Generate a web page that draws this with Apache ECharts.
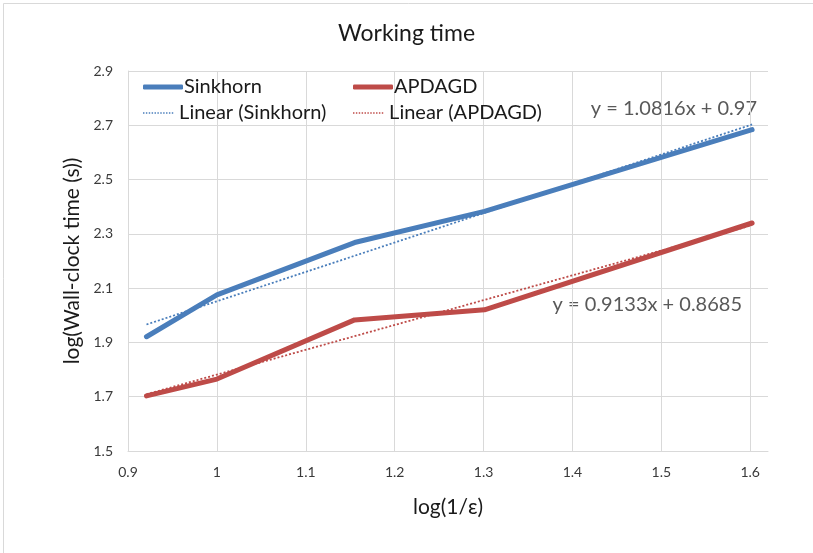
<!DOCTYPE html>
<html><head><meta charset="utf-8">
<script src="https://cdn.jsdelivr.net/npm/echarts@6/dist/echarts.min.js"></script>
<style>html,body{margin:0;padding:0;background:#fff}#c{width:813px;height:553px}</style>
</head><body><div id="c"></div>
<script>
var xValues = [0.9208, 1.0, 1.1549, 1.3010, 1.6021];
var sinkhorn = [1.921, 2.075, 2.268, 2.383, 2.684];
var apdagd = [1.703, 1.765, 1.983, 2.020, 2.340];
var trendX = [0.9208, 1.6021];
var sinkhornTrend = [1.966, 2.703];
var apdagdTrend = [1.709, 2.332];
var sinkhornEq = 'y = 1.0816x + 0.97';
var apdagdEq = 'y = 0.9133x + 0.8685';

function pairs(xs, ys){ return xs.map(function(x,i){return [x, ys[i]];}); }
var FONT = 'Lato';
var chart = echarts.init(document.getElementById('c'));
var blue = '#4a7ebb', red = '#be4b48';
var dots = 'path://';
for (var i = 0; i < 11; i++) { dots += 'M' + (i*3.6) + ',0h1.8v2h-1.8z'; }
function leg(name, left, top, solid, color){
  return {left:left, top:top, orient:'vertical', itemWidth:40, itemHeight: solid ? 5 : 1.6,
    icon: solid ? 'roundRect' : dots, itemStyle:{color:color},
    data:[{name:name, icon: solid ? 'roundRect' : dots, itemStyle:{color:color}}],
    textStyle:{fontFamily:FONT, fontSize:20, color:'#1a1a1a', padding:[0,0,0,-4]}};
}
chart.setOption({
  animation:false,
  backgroundColor:'#fff',
  textStyle:{fontFamily:FONT},
  title:{text:'Working time', left:'center', top:17, textStyle:{fontFamily:FONT, fontSize:23, fontWeight:'normal', color:'#1a1a1a'}},
  legend:[
    leg('Sinkhorn', 138, 72, true, blue),
    leg('Linear (Sinkhorn)', 138, 98, false, blue),
    leg('APDAGD', 348, 72, true, red),
    leg('Linear (APDAGD)', 348, 98, false, red)
  ],
  grid:{left:128, right:45, top:71, bottom:102},
  xAxis:{type:'value', min:0.9, max:1.62, interval:0.1,
    name:'log(1/ε)', nameLocation:'middle', nameGap:46,
    nameTextStyle:{fontFamily:FONT, fontSize:21, color:'#1a1a1a'},
    axisLine:{lineStyle:{color:'#d9d9d9'}}, axisTick:{show:false},
    axisLabel:{showMaxLabel:false, margin:14, fontSize:14, color:'#3a3a3a', fontFamily:FONT,
      formatter:function(v){return (Math.round(v*10)/10).toString();}},
    splitLine:{show:true, showMaxLine:false, lineStyle:{color:'#d9d9d9'}}},
  yAxis:{type:'value', min:1.5, max:2.9, interval:0.2,
    name:'log(Wall-clock time (s))', nameLocation:'middle', nameGap:38,
    nameTextStyle:{fontFamily:FONT, fontSize:21, color:'#1a1a1a'},
    axisLine:{show:true, lineStyle:{color:'#d9d9d9'}}, axisTick:{show:false},
    axisLabel:{margin:15, fontSize:14, color:'#3a3a3a', fontFamily:FONT,
      formatter:function(v){return v.toFixed(1);}},
    splitLine:{lineStyle:{color:'#d9d9d9'}}},
  series:[
    {name:'Sinkhorn', type:'line', data:pairs(xValues, sinkhorn), symbol:'none', color:blue,
     lineStyle:{width:5, color:blue, cap:'round', join:'round'}, z:3},
    {name:'APDAGD', type:'line', data:pairs(xValues, apdagd), symbol:'none', color:red,
     lineStyle:{width:5, color:red, cap:'round', join:'round'}, z:3},
    {name:'Linear (Sinkhorn)', type:'line', data:pairs(trendX, sinkhornTrend), symbol:'none', color:blue,
     lineStyle:{width:1.8, color:blue, type:[2,2]}, z:4},
    {name:'Linear (APDAGD)', type:'line', data:pairs(trendX, apdagdTrend), symbol:'none', color:red,
     lineStyle:{width:1.8, color:red, type:[2,2]}, z:4}
  ],
  graphic:[
    {type:'rect', shape:{x:3.5, y:3.5, width:900, height:700}, style:{fill:null, stroke:'#d9d9d9', lineWidth:1}, silent:true},
    {type:'text', right:56, top:99, style:{text:sinkhornEq, fontFamily:FONT, fontSize:20, fill:'#595959'}},
    {type:'text', right:71, top:295, style:{text:apdagdEq, fontFamily:FONT, fontSize:20, fill:'#595959'}}
  ]
});
</script></body></html>
